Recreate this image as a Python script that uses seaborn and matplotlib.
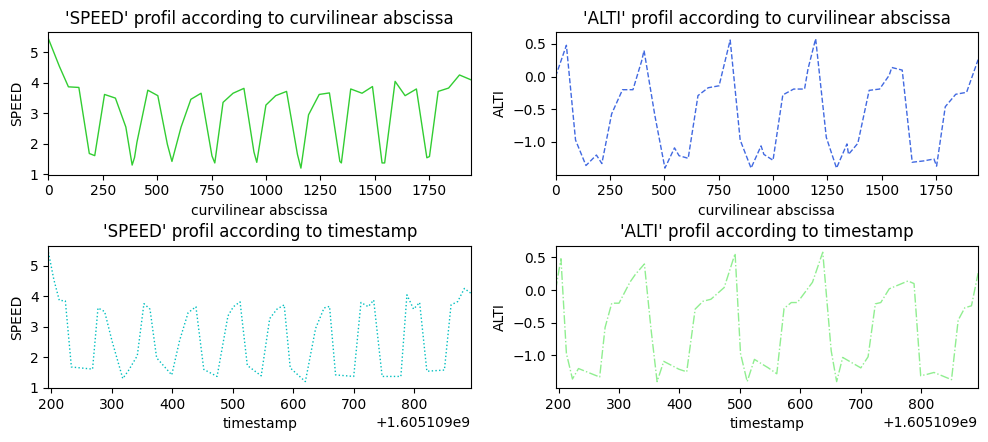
import numpy as np
import pandas as pd
import matplotlib
matplotlib.use("Agg")
import matplotlib.pyplot as plt
import seaborn as sns

# track points
timestamp_offset = 1605109000
timestamp = [195, 204, 213, 223, 233, 268, 277, 288, 300, 318,
             327, 342, 353, 363, 374, 399, 412, 426, 439, 452,
             474, 492, 501, 512, 524, 547, 561, 573, 585, 595,
             620, 637, 651, 660, 670, 700, 712, 724, 733, 747,
             778, 788, 799, 809, 821, 850, 861, 872, 883, 894]
abscissa = [0, 50, 92, 140, 188, 213, 258, 308, 356, 385,
            396, 407, 457, 503, 547, 568, 610, 655, 702, 752,
            765, 803, 849, 899, 945, 958, 1000, 1045, 1095, 1145,
            1161, 1196, 1245, 1292, 1340, 1347, 1390, 1442, 1490, 1534,
            1546, 1594, 1640, 1692, 1740, 1752, 1792, 1840, 1890, 1943]
speed = [5.45, 4.55, 3.87, 3.85, 1.68, 1.61, 3.62, 3.50, 2.55, 1.30,
         1.55, 2.05, 3.76, 3.58, 1.98, 1.42, 2.55, 3.46, 3.66, 1.60,
         1.37, 3.36, 3.66, 3.82, 1.73, 1.39, 3.27, 3.58, 3.72, 1.65,
         1.20, 2.95, 3.62, 3.67, 1.42, 1.37, 3.80, 3.66, 3.88, 1.37,
         1.37, 4.05, 3.58, 3.80, 1.54, 1.58, 3.72, 3.83, 4.26, 4.10]
alti = [0.00, 0.48, -0.97, -1.36, -1.20, -1.33, -0.57, -0.20, -0.20, 0.12,
        0.24, 0.40, -0.60, -1.40, -1.09, -1.21, -1.25, -0.29, -0.17, -0.14,
        0.04, 0.56, -0.97, -1.40, -1.06, -1.19, -1.28, -0.28, -0.19, -0.19,
        0.12, 0.58, -0.93, -1.40, -1.03, -1.19, -1.02, -0.21, -0.19, 0.02,
        0.14, 0.10, -1.31, -1.29, -1.26, -1.37, -0.46, -0.27, -0.24, 0.26]

df = pd.DataFrame({
    "timestamp": np.array(timestamp) + timestamp_offset,
    "curvilinear abscissa": abscissa,
    "SPEED": speed,
    "ALTI": alti,
})

fig, axes = plt.subplots(2, 2, figsize=(9.88, 4.42), dpi=100)
fig.subplots_adjust(left=0.049, right=0.99, top=0.927, bottom=0.122,
                    wspace=0.2, hspace=0.5)

panels = [
    ("curvilinear abscissa", "SPEED", "limegreen", "-"),
    ("curvilinear abscissa", "ALTI", "royalblue", "--"),
    ("timestamp", "SPEED", "c", ":"),
    ("timestamp", "ALTI", "lightgreen", "-."),
]

for ax, (xcol, ycol, color, ls) in zip(axes.flatten(), panels):
    sns.lineplot(data=df, x=xcol, y=ycol, color=color, linestyle=ls,
                 linewidth=1, estimator=None, sort=False, ax=ax)
    ax.set_xlim(df[xcol].min(), df[xcol].max())
    ax.set_title(f"'{ycol}' profil according to {xcol}", fontsize=12)
    ax.set_xlabel(xcol)
    ax.set_ylabel(ycol)

plt.savefig("out.png", dpi=100)
